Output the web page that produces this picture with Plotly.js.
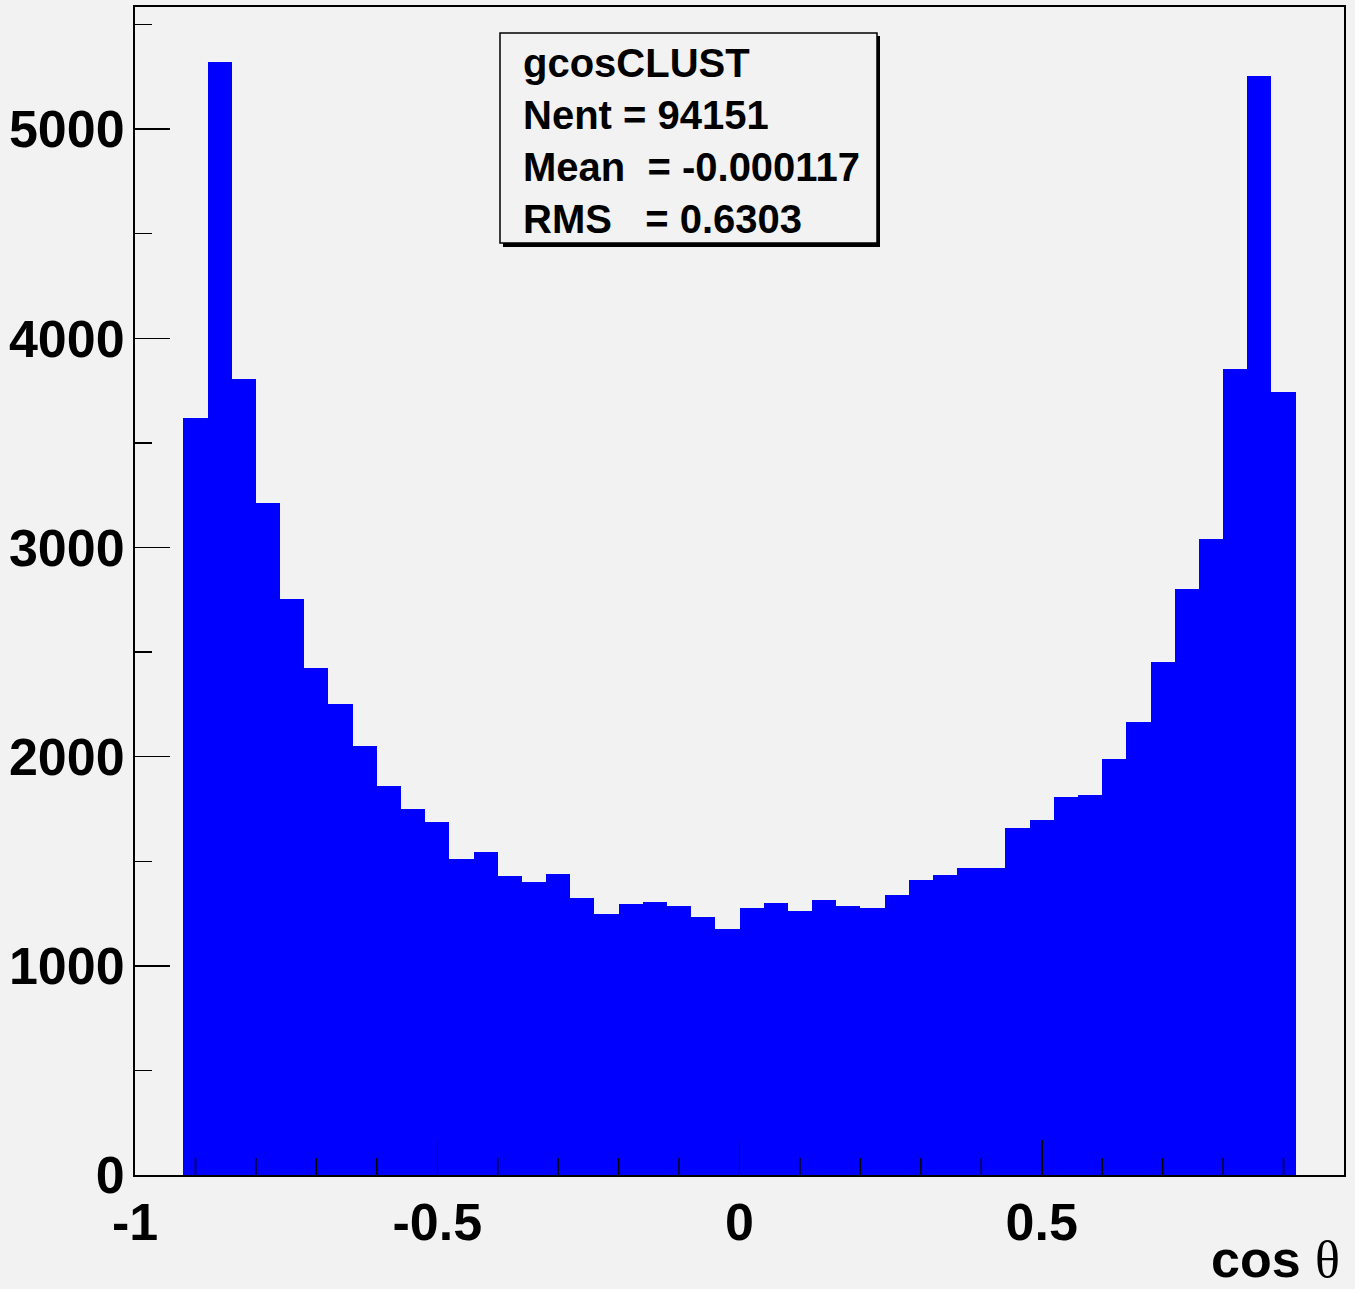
<!DOCTYPE html>
<html>
<head>
<meta charset="utf-8">
<script src="https://cdn.plot.ly/plotly-3.0.1.min.js"></script>
<style>
html,body{margin:0;padding:0;background:#f2f2f2;}
#chart{width:1355px;height:1289px;}
</style>
</head>
<body>
<div id="chart"></div>
<script>
// Histogram gcosCLUST: 46 bins from -0.92 to 0.92
const histName = "gcosCLUST";
const binLow = -0.92;
const binWidth = 0.04;
const counts = [
  3617, 5321, 3804, 3215, 2756, 2426, 2254, 2053, 1861, 1751,
  1689, 1512, 1545, 1431, 1402, 1440, 1325, 1249, 1297, 1306,
  1287, 1234, 1177, 1278, 1301, 1263, 1316, 1287, 1276, 1339,
  1410, 1435, 1468, 1468, 1660, 1699, 1808, 1817, 1990, 2168,
  2454, 2803, 3042, 3852, 5253, 3745
];
const statLabels = ["Nent = 94151", "Mean  = -0.000117", "RMS   = 0.6303"];
const xTickVals = [-1, -0.5, 0, 0.5, 1];
const xTickText = ["-1", "-0.5", "0", "0.5", "1"];
const xMinorVals = [-0.9, -0.8, -0.7, -0.6, -0.4, -0.3, -0.2, -0.1, 0.1, 0.2, 0.3, 0.4, 0.6, 0.7, 0.8, 0.9];
const yTickVals = [0, 1000, 2000, 3000, 4000, 5000];
const yTickText = ["0", "1000", "2000", "3000", "4000", "5000"];
const yMinorVals = [500, 1500, 2500, 3500, 4500, 5500];
const xTitle = "cos <span style='font-family:Liberation Serif;font-weight:normal'>θ</span>";

const centers = counts.map((_, i) => binLow + binWidth * (i + 0.5));

// page geometry helpers (pixel -> paper)
const W = 1355, H = 1289;
const L = 135, R = 11, T = 7, B = 114;
const pw = W - L - R, ph = H - T - B;
const px = x => (x - L) / pw;
const py = y => (H - B - y) / ph;

const FONT = "Liberation Sans, Arial, Helvetica, sans-serif";

const trace = {
  type: "bar",
  x: centers,
  y: counts,
  width: binWidth,
  marker: {color: "#0000ff", line: {width: 0}},
  hoverinfo: "x+y"
};

const statText = [histName].concat(statLabels);
const statY = [63, 115, 167, 219];
const annotations = statText.map((t, i) => ({
  xref: "paper", yref: "paper",
  x: px(521), y: py(statY[i]),
  xanchor: "left", yanchor: "middle",
  text: t.replace(/ /g, "&nbsp;"), showarrow: false,
  font: {family: FONT, size: 40, color: "#000", weight: "bold"}
}));
annotations.push({
  xref: "paper", yref: "paper",
  x: px(1341), y: py(1289),
  xanchor: "right", yanchor: "bottom", borderpad: 0,
  text: xTitle, showarrow: false,
  font: {family: FONT, size: 52, color: "#000", weight: "bold"}
});

const shapes = [
  {type: "rect", xref: "paper", yref: "paper",
   x0: px(503), x1: px(880), y0: py(247), y1: py(36),
   fillcolor: "#000", line: {width: 0}},
  {type: "rect", xref: "paper", yref: "paper",
   x0: px(500), x1: px(877), y0: py(243), y1: py(33),
   fillcolor: "#f2f2f2", line: {color: "#000", width: 1.5}}
];
// minor x ticks (drawn above the bars, on the data x scale)
xMinorVals.forEach(v => shapes.push({
  type: "line", xref: "x", yref: "paper", layer: "above",
  x0: v, x1: v, y0: 0, y1: 17 / ph,
  line: {color: "#000", width: 1.5}
}));

const layout = {
  width: W, height: H,
  margin: {l: L, r: R, t: T, b: B, pad: 0},
  paper_bgcolor: "#f2f2f2",
  plot_bgcolor: "#f2f2f2",
  showlegend: false,
  bargap: 0,
  xaxis: {
    range: [-1, 1],
    showgrid: false, zeroline: false,
    showline: true, linecolor: "#000", linewidth: 2, mirror: true,
    tickmode: "array", tickvals: xTickVals, ticktext: xTickText,
    ticks: "inside", ticklen: 35, tickwidth: 1.5, tickcolor: "#000",
    tickfont: {family: FONT, size: 52, color: "#000", weight: "bold"},
    ticklabelstandoff: 1
  },
  yaxis: {
    range: [0, 5584],
    showgrid: false, zeroline: false,
    showline: true, linecolor: "#000", linewidth: 2, mirror: true,
    tickmode: "array", tickvals: yTickVals, ticktext: yTickText,
    ticks: "inside", ticklen: 35, tickwidth: 1.5, tickcolor: "#000",
    minor: {tickmode: "array", tickvals: yMinorVals, ticks: "inside", ticklen: 17, tickwidth: 1.5, tickcolor: "#000", showgrid: false},
    tickfont: {family: FONT, size: 52, color: "#000", weight: "bold"},
    ticklabelstandoff: -2
  },
  annotations: annotations,
  shapes: shapes
};

Plotly.newPlot("chart", [trace], layout, {staticPlot: true, displayModeBar: false});
</script>
</body>
</html>
